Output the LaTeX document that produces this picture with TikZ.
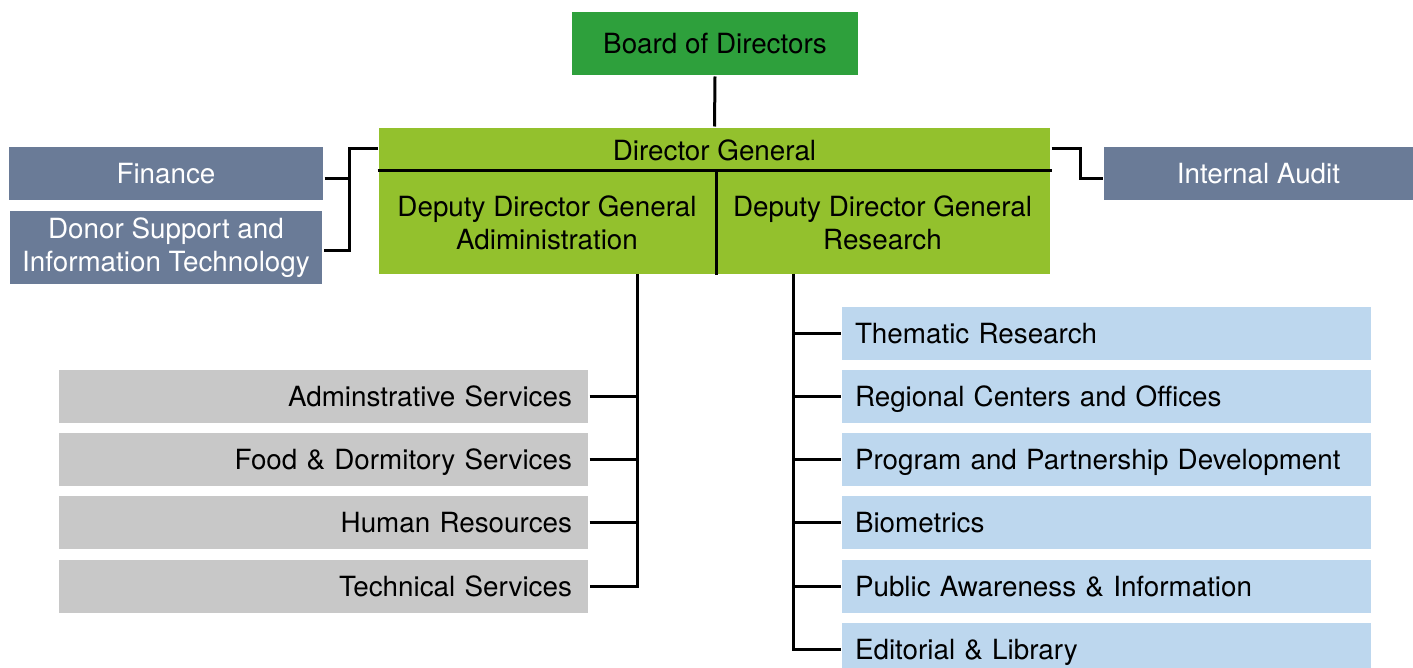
\documentclass[tikz,border=0pt]{standalone}
\usepackage{fontspec}
\setmainfont{TeX Gyre Heros}
\usepackage{xcolor}
\usepackage{tikz}
\usetikzlibrary{positioning}

\definecolor{boardgreen}{RGB}{46,160,60}
\definecolor{dggreen}{RGB}{147,193,45}
\definecolor{slate}{RGB}{106,123,151}
\definecolor{admgrey}{RGB}{200,200,200}
\definecolor{resblue}{RGB}{189,215,238}

\begin{document}
\begin{tikzpicture}[
    x=0.5pt, y=-0.5pt,
    line width=1.5pt,
    box/.style={fill=#1, inner sep=0pt, font=\fontsize{13.9}{16.5}\selectfont, align=center},
    box/.default={dggreen},
    unit/.style={box=slate, text=white, minimum width=157pt},
    adm/.style={box=admgrey, minimum height=26.5pt, text height=10pt, text depth=0pt, inner xsep=8pt, text width=248.5pt, align=right},
    res/.style={box=resblue, minimum height=26.5pt, text height=10pt, text depth=0pt, inner xsep=6.5pt, text width=251.5pt, align=left}
]
\useasboundingbox (0,0) rectangle (1413,668);

% Top of the chart
\node[box=boardgreen, minimum width=143pt, minimum height=31.5pt] (board) at (715,43.5) {Board of Directors};
\node[box, minimum width=335.5pt, minimum height=22pt] (dg) at (714.5,150) {Director General};
\node[box, minimum width=168pt, minimum height=51pt] (ddga) at (547,223) {Deputy Director General\\Adiministration};
\node[box, minimum width=167.5pt, minimum height=51pt] (ddgr) at (882.5,223) {Deputy Director General\\Research};

% Dividers inside the green block
\draw (ddga.north west) -- (ddgr.north east);
\draw (ddga.north east) -- (ddga.south east);

% Side units
\node[unit, minimum height=26.5pt] (fin) at (166,173.5) {Finance};
\node[unit, minimum width=156pt, minimum height=36.5pt] (donor) at (166,247.5) {Donor Support and\\Information Technology};
\node[unit, minimum width=154.5pt, minimum height=26.5pt] (audit) at (1258.5,173.5) {Internal Audit};

% Administration units
\node[adm] (adm1) at (323.5,396.5) {Adminstrative Services};
\node[adm] (adm2) at (323.5,459.5) {Food \& Dormitory Services};
\node[adm] (adm3) at (323.5,522.5) {Human Resources};
\node[adm] (adm4) at (323.5,586.5) {Technical Services};

% Research units
\node[res] (res1) at (1106.5,333.5) {Thematic Research};
\node[res] (res2) at (1106.5,396.5) {Regional Centers and Offices};
\node[res] (res3) at (1106.5,459.5) {Program and Partnership Development};
\node[res] (res4) at (1106.5,522.5) {Biometrics};
\node[res] (res5) at (1106.5,586.5) {Public Awareness \& Information};
\node[res] (res6) at (1106.5,649.5) {Editorial \& Library};

% Bus points
\coordinate (fbus) at (349,149);
\coordinate (abus) at (1080,149);
\coordinate (admbus) at (637,274);
\coordinate (resbus) at (793,274);

% Connectors
\draw (board.south) -- (dg.north);
\draw (dg.west |- fbus) -- (fbus) |- ([yshift=-1.5pt]donor.east);
\draw ([yshift=-2.5pt]fin.east) -- ([yshift=-2.5pt]fin.east -| fbus);
\draw (dg.east |- abus) -- (abus) |- ([yshift=-2.5pt]audit.west);
\draw (admbus) |- (adm4.east);
\foreach \i in {1,2,3}
  \draw (adm\i.east) -- (adm\i.east -| admbus);
\draw (resbus) |- (res6.west);
\foreach \i in {1,...,5}
  \draw (res\i.west) -- (res\i.west -| resbus);

\end{tikzpicture}
\end{document}
